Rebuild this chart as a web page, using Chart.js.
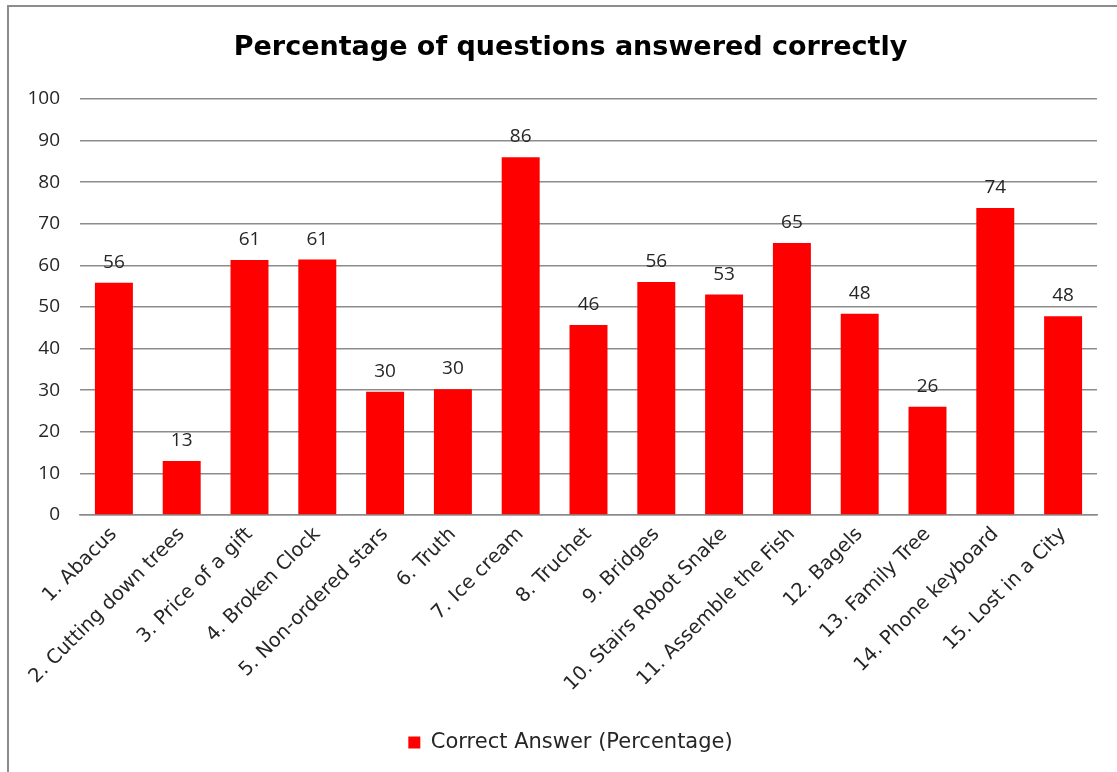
<!DOCTYPE html>
<html>
<head>
<meta charset="utf-8">
<script src="https://cdn.jsdelivr.net/npm/chart.js@4"></script>
<style>
  html, body { margin: 0; padding: 0; background: #ffffff; }
  #wrap { position: relative; width: 1117px; height: 772px; overflow: hidden; background: #fff; }
  #frame { position: absolute; left: 7px; top: 5px; width: 1200px; height: 900px;
           border-left: 2px solid #8c8c8c; border-top: 2px solid #8c8c8c; box-sizing: border-box; }
  canvas { position: absolute; left: 0; top: 0; }
</style>
</head>
<body>
<div id="wrap">
  <div id="frame"></div>
  <canvas id="c" width="1117" height="772"></canvas>
</div>
<script>
const categories = [
  "1. Abacus", "2. Cutting down trees", "3. Price of a gift", "4. Broken Clock",
  "5. Non-ordered stars", "6. Truth", "7. Ice cream", "8. Truchet", "9. Bridges",
  "10. Stairs Robot Snake", "11. Assemble the Fish", "12. Bagels", "13. Family Tree",
  "14. Phone keyboard", "15. Lost in a City"
];
const correctPercent = [55.8, 13.0, 61.3, 61.4, 29.6, 30.2, 86.0, 45.7, 56.0, 53.0, 65.4, 48.4, 26.0, 73.8, 47.8];
const yTicks = [0, 10, 20, 30, 40, 50, 60, 70, 80, 90, 100];
const seriesName = "Correct Answer (Percentage)";
const chartTitle = "Percentage of questions answered correctly";

const NUMFONT = "'Open Sans', 'DejaVu Sans', sans-serif";
const WORDFONT = "'DejaVu Sans', 'Open Sans', sans-serif";
const TEXT = "#262626";
const GRID = "#8c8c8c";

const valueLabels = {
  id: 'valueLabels',
  afterDatasetsDraw(chart) {
    const ctx = chart.ctx;
    const meta = chart.getDatasetMeta(0);
    ctx.save();
    ctx.font = "19px " + NUMFONT;
    ctx.fillStyle = TEXT;
    ctx.textAlign = 'center';
    ctx.textBaseline = 'alphabetic';
    meta.data.forEach((bar, i) => {
      const v = chart.data.datasets[0].data[i];
      ctx.fillText(String(Math.round(v)), bar.x, bar.y - 15);
    });
    ctx.restore();
  }
};

// centre title and legend over the plot frame rather than the whole canvas
const centreBlocks = {
  id: 'centreBlocks',
  afterLayout(chart) {
    if (chart.titleBlock) chart.titleBlock.left += 44;
    if (chart.legend) chart.legend.left += 44;
  }
};

new Chart(document.getElementById('c'), {
  type: 'bar',
  data: {
    labels: categories,
    datasets: [{
      label: seriesName,
      data: correctPercent,
      backgroundColor: '#ff0000',
      borderWidth: 0,
      barPercentage: 0.56,
      categoryPercentage: 1.0
    }]
  },
  options: {
    responsive: false,
    animation: false,
    devicePixelRatio: 1,
    layout: { padding: { left: 0, right: 20, top: 0, bottom: 9 } },
    plugins: {
      title: {
        display: true,
        text: chartTitle,
        color: '#000000',
        font: { family: "'DejaVu Sans', sans-serif", size: 27, weight: 'bold', lineHeight: 1.2 },
        padding: { top: 32, bottom: 34.6 }
      },
      legend: {
        position: 'bottom',
        labels: {
          color: TEXT,
          font: { family: WORDFONT, size: 21 },
          boxWidth: 12,
          boxHeight: 12,
          padding: 10
        }
      },
      tooltip: { enabled: false }
    },
    scales: {
      x: {
        grid: { display: false, drawTicks: false },
        border: { display: true, color: GRID, width: 1.5 },
        ticks: {
          color: TEXT,
          font: { family: WORDFONT, size: 19.5 },
          maxRotation: 45,
          minRotation: 45,
          autoSkip: false,
          padding: 8
        },
        afterFit(scale) { scale.height = 207; }
      },
      y: {
        min: 0,
        max: 100,
        afterBuildTicks(scale) { scale.ticks = yTicks.map(v => ({ value: v })); },
        grid: { color: GRID, lineWidth: 1.5, drawTicks: false },
        border: { display: false },
        ticks: {
          color: TEXT,
          font: { family: NUMFONT, size: 19 },
          padding: 20
        },
        afterFit(scale) { scale.width = 80; }
      }
    }
  },
  plugins: [valueLabels, centreBlocks]
});
</script>
</body>
</html>
